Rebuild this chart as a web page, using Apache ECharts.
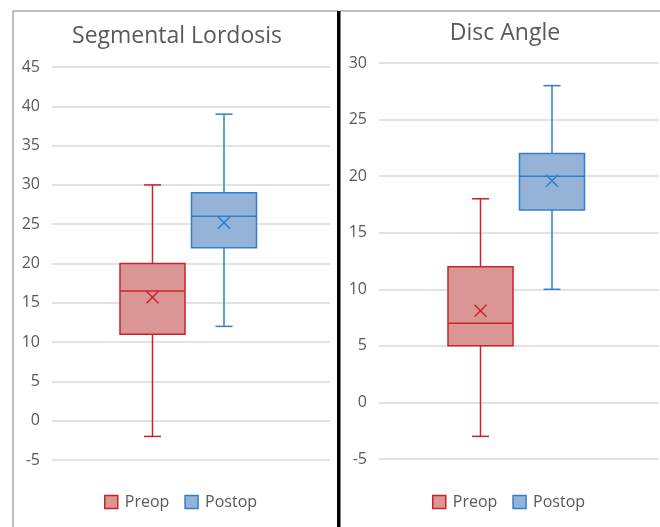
<!DOCTYPE html>
<html>
<head>
<meta charset="utf-8">
<script src="https://cdn.jsdelivr.net/npm/echarts@6/dist/echarts.min.js"></script>
<style>
html,body{margin:0;padding:0;background:#fff;}
#c{width:660px;height:527px;}
</style>
</head>
<body>
<div id="c"></div>
<script>
// ---- data ----
var titles = ['Segmental Lordosis', 'Disc Angle'];
var seriesNames = ['Preop', 'Postop'];
// [min, Q1, median, Q3, max, mean]
var lordosisPreop = [-2, 11, 16.5, 20, 30, 15.7];
var lordosisPostop = [12, 22, 26, 29, 39, 25.2];
var discPreop = [-3, 5, 7, 12, 18, 8.1];
var discPostop = [10, 17, 20, 22, 28, 19.6];
var lordosisTicks = [-5, 45, 5];   // min, max, interval
var discTicks = [-5, 30, 5];

// ---- style ----
var fillColors = ['#d99694', '#95b3d7'];
var lineColors = ['#cc2229', '#2e80cf'];
var boxOffsets = [-38.5, 33];
var boxHalf = 32.5, capHalf = 8.5, xHalf = 6;
var textColor = '#595959';
var font = 'Open Sans';

function renderBox(idx) {
  return function (params, api) {
    var c = api.coord([0, api.value(1)]);
    var cx = c[0] + boxOffsets[idx];
    var yMin = api.coord([0, api.value(1)])[1];
    var yQ1 = api.coord([0, api.value(2)])[1];
    var yMed = api.coord([0, api.value(3)])[1];
    var yQ3 = api.coord([0, api.value(4)])[1];
    var yMax = api.coord([0, api.value(5)])[1];
    var yMean = api.coord([0, api.value(6)])[1];
    var ls = {stroke: lineColors[idx], lineWidth: 1.5, fill: null};
    return {
      type: 'group',
      children: [
        {type: 'line', shape: {x1: cx, y1: yMax, x2: cx, y2: yQ3}, style: ls},
        {type: 'line', shape: {x1: cx, y1: yQ1, x2: cx, y2: yMin}, style: ls},
        {type: 'line', shape: {x1: cx - capHalf, y1: yMax, x2: cx + capHalf, y2: yMax}, style: ls},
        {type: 'line', shape: {x1: cx - capHalf, y1: yMin, x2: cx + capHalf, y2: yMin}, style: ls},
        {type: 'rect', shape: {x: cx - boxHalf, y: yQ3, width: boxHalf * 2, height: yQ1 - yQ3},
          style: {fill: fillColors[idx], stroke: lineColors[idx], lineWidth: 1.5}},
        {type: 'line', shape: {x1: cx - boxHalf, y1: yMed, x2: cx + boxHalf, y2: yMed}, style: ls},
        {type: 'line', shape: {x1: cx - xHalf, y1: yMean - xHalf, x2: cx + xHalf, y2: yMean + xHalf}, style: ls},
        {type: 'line', shape: {x1: cx - xHalf, y1: yMean + xHalf, x2: cx + xHalf, y2: yMean - xHalf}, style: ls}
      ]
    };
  };
}

function mkSeries(name, idx, gridIdx, vals) {
  return {
    type: 'custom', name: name,
    xAxisIndex: gridIdx, yAxisIndex: gridIdx,
    renderItem: renderBox(idx),
    itemStyle: {color: fillColors[idx], borderColor: lineColors[idx], borderWidth: 1.5},
    encode: {x: 0, y: [1, 2, 3, 4, 5, 6]},
    data: [[0].concat(vals)]
  };
}

function yAxis(gridIdx, t) {
  return {
    type: 'value', gridIndex: gridIdx, min: t[0], max: t[1], interval: t[2],
    axisLine: {show: false}, axisTick: {show: false},
    axisLabel: {color: textColor, fontFamily: font, fontSize: 16, margin: 12},
    splitLine: {lineStyle: {color: '#d9d9d9', width: 1.5}}
  };
}
function xAxis(gridIdx) {
  return {
    type: 'category', gridIndex: gridIdx, data: [''],
    axisLine: {show: false}, axisTick: {show: false}, axisLabel: {show: false}
  };
}
function legendData() {
  return seriesNames.map(function (n, i) {
    return {name: n, icon: 'rect',
      itemStyle: {color: fillColors[i], borderColor: lineColors[i], borderWidth: 1.5}};
  });
}

var chart = echarts.init(document.getElementById('c'), null, {renderer: 'canvas'});
chart.setOption({
  animation: false,
  backgroundColor: '#fff',
  title: [
    {text: titles[0], left: 172, top: 20, textAlign: 'center',
      textStyle: {color: textColor, fontFamily: font, fontSize: 23, fontWeight: 'normal'}},
    {text: titles[1], left: 500, top: 17, textAlign: 'center',
      textStyle: {color: textColor, fontFamily: font, fontSize: 23, fontWeight: 'normal'}}
  ],
  legend: [
    {left: 104, top: 494, padding: 0, itemWidth: 13, itemHeight: 13, itemGap: 15, selectedMode: false,
      textStyle: {color: textColor, fontFamily: font, fontSize: 16, padding: [0, 0, 0, 2]},
      data: legendData()},
    {left: 432, top: 494, padding: 0, itemWidth: 13, itemHeight: 13, itemGap: 15, selectedMode: false,
      textStyle: {color: textColor, fontFamily: font, fontSize: 16, padding: [0, 0, 0, 2]},
      data: legendData()}
  ],
  grid: [
    {left: 52, right: 330, top: 67, bottom: 67},
    {left: 379, right: 1, top: 63, bottom: 68}
  ],
  xAxis: [xAxis(0), xAxis(1)],
  yAxis: [yAxis(0, lordosisTicks), yAxis(1, discTicks)],
  series: [
    mkSeries(seriesNames[0], 0, 0, lordosisPreop),
    mkSeries(seriesNames[1], 1, 0, lordosisPostop),
    mkSeries(seriesNames[0], 0, 1, discPreop),
    mkSeries(seriesNames[1], 1, 1, discPostop)
  ],
  graphic: [
    {type: 'line', shape: {x1: 13, y1: 11, x2: 338, y2: 11}, style: {stroke: '#7f7f7f', lineWidth: 1}},
    {type: 'line', shape: {x1: 13, y1: 11, x2: 13, y2: 527}, style: {stroke: '#7f7f7f', lineWidth: 1}},
    {type: 'line', shape: {x1: 340, y1: 11, x2: 660, y2: 11}, style: {stroke: '#7f7f7f', lineWidth: 1}},
    {type: 'rect', shape: {x: 337, y: 11, width: 3.5, height: 516}, style: {fill: '#000'}}
  ]
});
</script>
</body>
</html>
